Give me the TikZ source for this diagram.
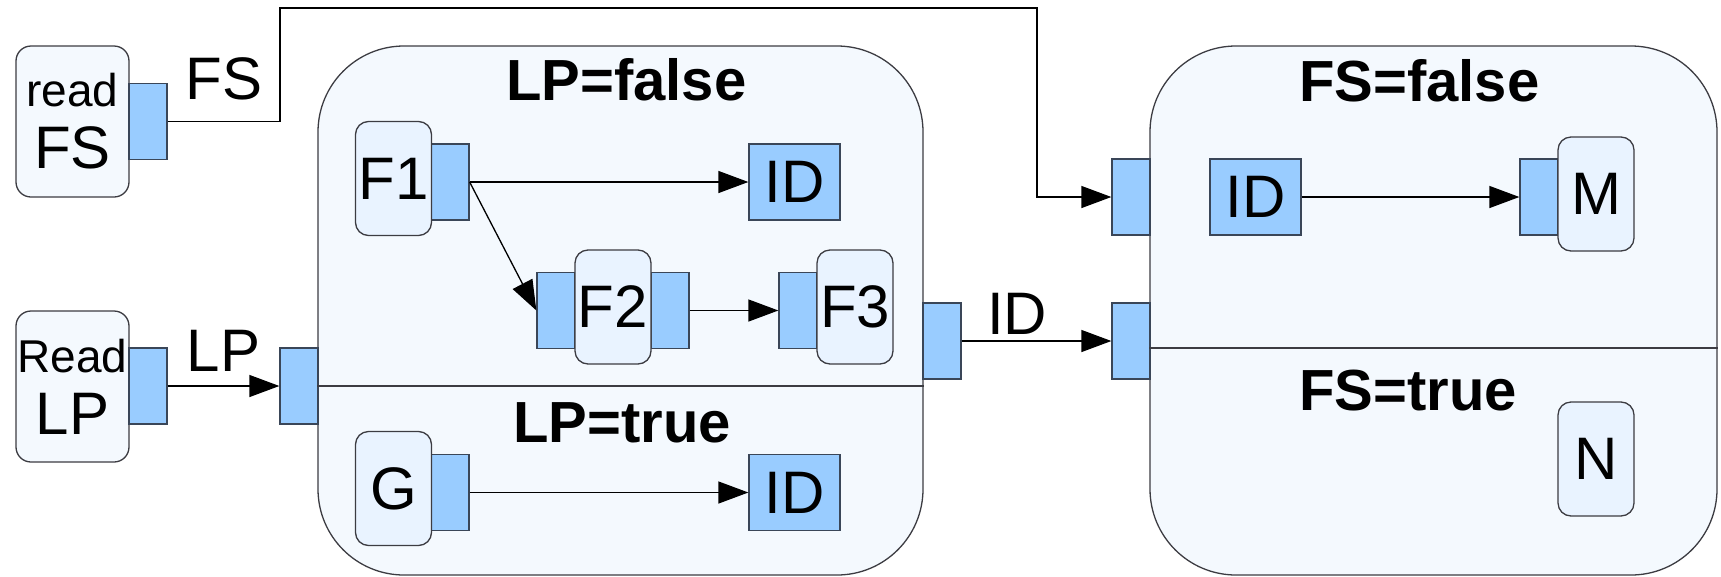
\documentclass[tikz,border=0pt]{standalone}
\usepackage{fontspec}
\setmainfont{Liberation Sans}
\usepackage{tikz}
\usetikzlibrary{
    arrows.meta,
    positioning,
    calc
}
\definecolor{portblue}{RGB}{153,204,255}
\definecolor{portedge}{RGB}{58,70,88}
\definecolor{boxfill}{RGB}{244,249,254}
\definecolor{funcfill}{RGB}{233,243,255}
\definecolor{edgegray}{RGB}{60,60,66}
\tikzstyle{region} = [
    rectangle,
    rounded corners=86pt,
    draw=edgegray,
    fill=boxfill,
    line width=1.3pt,
    minimum height=529pt
]
\tikzstyle{reader} = [
    rectangle,
    rounded corners=15pt,
    draw=edgegray,
    fill=boxfill,
    line width=1.3pt,
    minimum width=113pt,
    minimum height=151pt,
    inner sep=0pt,
    align=center,
    font=\fontsize{60}{62}\selectfont
]
\tikzstyle{func} = [
    rectangle,
    rounded corners=13pt,
    draw=edgegray,
    fill=funcfill,
    line width=1.3pt,
    minimum width=76pt,
    minimum height=114pt,
    inner sep=0pt,
    font=\fontsize{60}{60}\selectfont
]
\tikzstyle{socket} = [
    rectangle,
    draw=portedge,
    fill=portblue,
    line width=1.3pt,
    minimum width=38pt,
    minimum height=76pt,
    inner sep=0pt
]
\tikzstyle{ident} = [
    socket,
    minimum width=91pt,
    font=\fontsize{60}{60}\selectfont
]
\tikzstyle{guard} = [
    anchor=base west,
    inner sep=0pt,
    font=\fontsize{58}{58}\selectfont\bfseries
]
\tikzstyle{tag} = [
    inner sep=0pt,
    font=\fontsize{60}{60}\selectfont
]
\tikzstyle{plain} = [
    line width=1.3pt,
    draw=edgegray
]
\tikzstyle{wire} = [
    -{Triangle[length=30pt,width=22pt]},
    line width=1.3pt
]

\begin{document}
\begin{tikzpicture}[x=1pt, y=-1pt]
        \useasboundingbox (0,0) rectangle (1721,576);

        % Readers
        \node[reader] (readfs) at (72.5,121.5) {{\fontsize{46}{62}\selectfont read}\\FS};
        \node[socket] (readfsout) at (148,121.5) {};
        \node[reader] (readlp) at (72.5,386.5) {{\fontsize{46}{62}\selectfont Read}\\LP};
        \node[socket] (readlpout) at (148,386) {};

        % LP switch
        \node[region, minimum width=605pt] (lpswitch) at (620.5,310.5) {};
        \node[socket] (lpin) at (299,386) {};
        \node[socket] (lpout) at (942,341) {};
        \draw[plain] (lpswitch.west |- lpin) -- (lpswitch.east |- lpin);
        \node[guard] (lpfalse) at (506,100) {LP=false};
        \node[guard] (lptrue) at (513,442) {LP=true};

        % LP=false branch
        \node[socket] (f1out) at (450,182) {};
        \node[func] (f1) at (393.5,178.5) {F1};
        \node[ident] (idf) at (794.5,182) {ID};
        \node[socket] (f2in) at (556,310.5) {};
        \node[socket] (f2out) at (670,310.5) {};
        \node[func] (f2) at (613,307) {F2};
        \node[socket] (f3in) at (798,310.5) {};
        \node[func] (f3) at (855,307) {F3};

        % LP=true branch
        \node[socket] (gout) at (450,492.5) {};
        \node[func] (g) at (393.5,488.5) {G};
        \node[ident] (idt) at (794.5,492.5) {ID};

        % FS switch
        \node[region, minimum width=567pt] (fsswitch) at (1433.5,310.5) {};
        \node[socket] (fsin) at (1131,197) {};
        \node[socket] (idin) at (1131,341) {};
        \draw[plain] (fsswitch.west |- 0,348) -- (fsswitch.east |- 0,348);
        \node[guard] (fsfalse) at (1299,101) {FS=false};
        \node[guard] (fstrue) at (1299,410) {FS=true};
        \node[ident] (idm) at (1255.5,197) {ID};
        \node[socket] (min) at (1539,197) {};
        \node[func] (m) at (1596,194) {M};
        \node[func] (n) at (1596,459) {N};

        % Bends of the FS line
        \coordinate (fsup) at (280,8);
        \coordinate (fsdown) at (1037,8);

        % Arrows
        \draw[wire] (readfsout.east) -| node[tag, pos=0.25, above=21pt] {FS} (fsup) -- (fsdown) |- (fsin.west);
        \draw[wire] (readlpout) -- node[tag, above=14pt] {LP} (lpin);
        \draw[wire] (f1out.east) -- (idf.west);
        \draw[wire] (f1out.east) -- (f2in.west);
        \draw[wire] (f2out) -- (f3in);
        \draw[wire] (gout) -- (idt);
        \draw[wire] (lpout) -- node[tag, pos=0.37, above=6pt] {ID} (idin);
        \draw[wire] (idm) -- (min);
    \end{tikzpicture}
\end{document}
